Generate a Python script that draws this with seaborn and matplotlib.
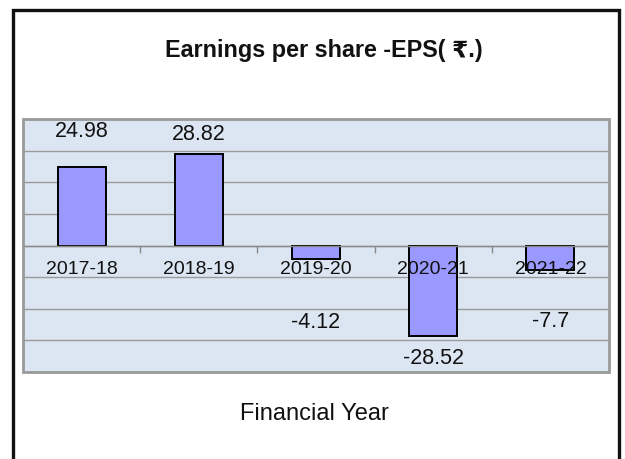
import matplotlib
matplotlib.use("Agg")
import matplotlib.pyplot as plt
from matplotlib.patches import Rectangle
import seaborn as sns
import pandas as pd

# ---- data ----
years = ["2017-18", "2018-19", "2019-20", "2020-21", "2021-22"]
eps = [24.98, 28.82, -4.12, -28.52, -7.7]

# ---- layout (label placement in data units) ----
label_y = [36.0, 35.0, -24.3, -35.6, -24.0]
cat_label_y = -7.6

sns.set_theme(style="white")
plt.rcParams["font.family"] = ["Liberation Sans", "DejaVu Sans"]

df = pd.DataFrame({"year": years, "eps": eps})

W, H = 625, 459
fig = plt.figure(figsize=(W / 100, H / 100), dpi=100)
fig.patch.set_facecolor("white")

# outer black frame
fig.patches.append(Rectangle((13 / W, -0.1), (619 - 13) / W, (H - 10) / H + 0.1,
                             transform=fig.transFigure, fill=False,
                             edgecolor="#111111", linewidth=2.4, zorder=0))

ax = fig.add_axes([23 / W, 1 - 372 / H, (609 - 23) / W, (372 - 119) / H])
ax.set_facecolor("#dce6f2")

sns.barplot(data=df, x="year", y="eps", ax=ax, color="#9999ff", width=0.41,
            edgecolor="black", linewidth=1.4, saturation=1, zorder=2)

ax.set_ylim(-40, 40)
ax.set_xlim(-0.5, len(years) - 0.5)
ax.set_yticks(range(-40, 41, 10))
ax.set_yticklabels([])
ax.tick_params(axis="y", length=0)
ax.set_axisbelow(True)
ax.yaxis.grid(True, color="#9a9a9a", linewidth=1.0)
ax.xaxis.grid(False)

# x axis at zero with tick marks between categories
for s in ["left", "right", "top"]:
    ax.spines[s].set_visible(False)
ax.spines["bottom"].set_position(("data", 0))
ax.spines["bottom"].set_color("#8a8a8a")
ax.spines["bottom"].set_linewidth(1.0)
ax.set_xticks([i + 0.5 for i in range(len(years) - 1)])
ax.set_xticklabels([])
ax.tick_params(axis="x", direction="out", length=5, width=1, color="#8a8a8a", bottom=True)
ax.set_xlabel("")
ax.set_ylabel("")

# plot area border
ax.add_patch(Rectangle((0, 0), 1, 1, transform=ax.transAxes, fill=False,
                       edgecolor="#999999", linewidth=2.0, clip_on=False, zorder=6))

# category labels (drawn above bars)
for i, yr in enumerate(years):
    ax.text(i, cat_label_y, yr, ha="center", va="center", fontsize=14,
            color="#111111", zorder=5)

# data labels
for i, (v, ly) in enumerate(zip(eps, label_y)):
    ax.text(i, ly, str(v), ha="center", va="center", fontsize=15.5,
            color="#111111", zorder=5)

fig.text(324 / W, 1 - 57 / H, "Earnings per share -EPS( ₹.)", ha="center",
         va="baseline", fontsize=16.8, fontweight="bold", color="#111111")
fig.text(314 / W, 1 - 420 / H, "Financial Year", ha="center", va="baseline",
         fontsize=17, color="#111111")

fig.savefig("out.png", dpi=100, facecolor="white")
